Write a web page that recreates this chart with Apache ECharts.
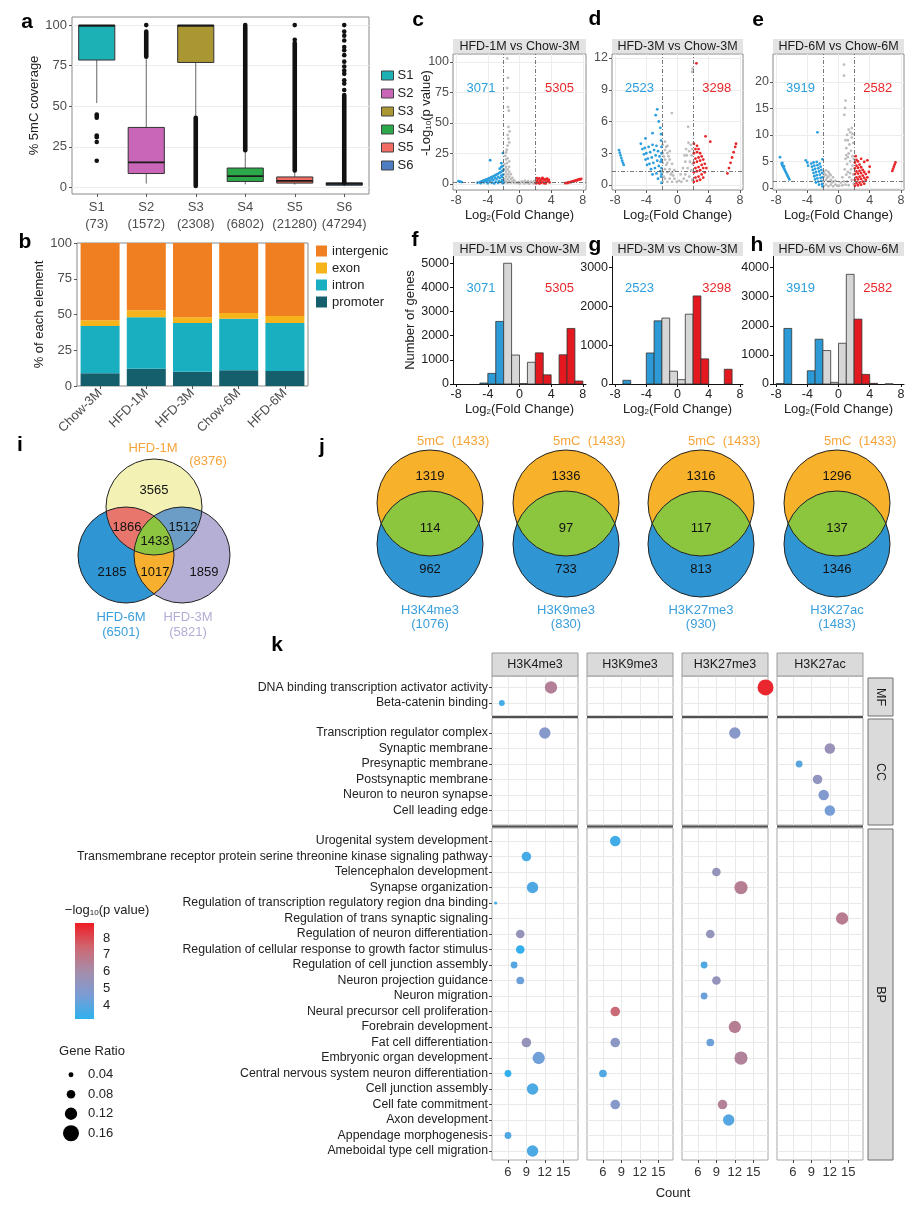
<!DOCTYPE html>
<html><head><meta charset="utf-8">
<script src="https://cdn.jsdelivr.net/npm/echarts@6/dist/echarts.min.js"></script>
<style>html,body{margin:0;padding:0;background:#fff}#chart{width:920px;height:1208px}</style>
</head><body><div id="chart"></div>
<script>
// ================= DATA =================
// panel a
const aSamples = ['S1','S2','S3','S4','S5','S6'];
const aCounts = [73,1572,2308,6802,21280,47294];
// [lowWhisker, Q1, median, Q3, highWhisker]
const aBoxes = [[52,78.5,99.6,100,100],[2.4,8.6,15.5,37,79],[44,77,99.6,100,100],[2,3.7,7,12,22.4],[1.8,2.7,4.1,6.5,10.2],[0.8,1.4,2.2,2.9,4]];
// isolated outliers [sampleIndex, value]
const aOutliers = [[0,45],[0,44],[0,43],[0,32],[0,31],[0,28],[0,16.5],[1,100],[3,100],[4,91],[4,100],
  [5,60],[5,64],[5,66],[5,70],[5,72],[5,74.5],[5,77.5],[5,81.5],[5,84.5],[5,86.5],[5,90.5],[5,93.5],[5,96],[5,100]];
// dense outlier runs [sampleIndex, from, to]
const aOutlierRuns = [[1,80.5,96],[2,1,43],[3,23,99],[4,10.5,89],[5,3,57]];

// panel b
const bSamples = ['Chow-3M','HFD-1M','HFD-3M','Chow-6M','HFD-6M'];
const bPromoter = [9,12,10,11,10.5];
const bIntron = [33,36,34,36,33.5];
const bExon = [4,5,4,4,5];
const bIntergenic = [54,47,52,49,51];

// panels c-h
const compTitles = ['HFD-1M vs Chow-3M','HFD-3M vs Chow-3M','HFD-6M vs Chow-6M'];
const compDown = [3071,2523,3919];
const compUp = [5305,3298,2582];
const fcCut = 2, pCut = 1.3;

const cBlue = [[-7.7,2.2],[-7.5,1.9],[-7.3,1.5],[-5.3,1.0],[-5.0,1.5],[-4.8,2.0],[-4.6,2.6],[-4.4,3.1],[-4.2,3.7],[-4.0,4.2],[-3.8,4.8],[-3.6,5.4],[-3.4,6.0],[-3.2,6.6],[-3.0,7.3],[-2.8,8.0],[-2.6,8.8],[-2.4,9.6],[-2.2,10.5],[-2.05,11.5],
 [-4.9,0.6],[-4.5,1.2],[-4.1,1.8],[-3.7,2.5],[-3.3,3.2],[-2.9,4.0],[-2.5,4.8],[-2.2,5.6],[-4.0,0.5],[-3.5,1.0],[-3.0,1.6],[-2.6,2.3],[-2.2,3.0],
 [-3.2,0.4],[-2.7,0.9],[-2.3,1.5],[-2.1,0.6],[-2.05,2.2],[-2.1,7.5],[-2.3,6.8],[-2.7,5.8],[-3.1,5.0],[-3.5,4.0],[-3.9,3.0],[-4.3,2.1],
 [-2.5,12.5],[-2.3,13.8],[-2.15,14.5],[-3.7,19.4],[-2.1,25.3],[-2.3,17]];
const cGray = [[-1.55,102.8],[-1.45,87],[-1.55,78.6],[-1.45,63],[-1.35,60],[-1.4,46.7],[-1.25,43],[-1.4,37],[-1.5,31.4],[-1.7,25.8],[-1.8,23],[-1.6,28],[-1.3,34],[-1.5,40],[-1.7,20],[-1.5,21],[-1.3,18.5],[-1.6,17],[-1.9,16],
 [-1.9,1],[-1.9,4],[-1.9,8],[-1.9,12],[-1.7,2],[-1.7,6],[-1.7,10],[-1.7,14],[-1.5,1],[-1.5,4],[-1.5,8],[-1.5,12],[-1.3,2],[-1.3,6],[-1.3,10],[-1.3,14],[-1.1,1],[-1.1,4],[-1.1,8],[-0.9,2],[-0.9,5],[-0.7,1],[-0.7,3],[-0.5,1.5],[-0.3,0.8],
 [-0.1,1.5],[0.1,0.8],[0.3,2],[0.5,1.2],[0.7,2.5],[0.9,1],[1.1,2.2],[1.3,0.7],[1.5,1.8],[1.7,1.1],[1.9,2.4],[0,0.3],[0.6,0.4],[1.2,0.3],[1.8,0.5]];
const cRed = [[2.1,0.5],[2.2,2],[2.3,3.5],[2.4,1],[2.5,4.5],[2.6,2.5],[2.7,0.8],[2.8,3.8],[2.9,1.8],[3.0,4.2],[3.1,0.6],[3.2,2.9],[3.3,3.9],[3.4,1.5],[3.5,4.4],[3.6,2.3],[3.7,3.2],[3.8,1.2],[2.2,4.8],[2.9,5],[3.3,0.4],[2.5,0.3],
 [5.8,0.6],[6.0,0.9],[6.2,1.2],[6.4,1.5],[6.6,1.8],[6.8,2.2],[7.0,2.6],[7.2,3.0],[7.4,3.4],[7.6,3.8],[7.8,4.2],[6.1,0.7],[6.5,1.4],[6.9,2.1],[7.3,3.0],[7.7,3.7]];

const dBlue = [[-7.5,3.3],[-7.4,3.05],[-7.3,2.8],[-7.2,2.55],[-7.1,2.3],[-7.0,2.1],[-6.9,1.9],
 [-4.7,3.9],[-4.5,3.4],[-4.3,2.9],[-4.1,2.4],[-3.9,1.9],[-4.2,3.5],[-4.0,3.0],[-3.8,2.5],[-3.6,2.0],[-3.4,1.5],[-3.2,1.0],
 [-3.7,3.6],[-3.5,3.1],[-3.3,2.6],[-3.1,2.1],[-2.9,1.6],[-2.7,1.1],[-2.5,0.6],[-3.2,3.8],[-3.0,3.3],[-2.8,2.8],[-2.6,2.3],[-2.4,1.8],[-2.2,1.3],[-2.1,0.8],
 [-2.7,3.7],[-2.5,3.2],[-2.3,2.7],[-2.15,2.2],[-2.05,0.2],[-2.05,1.0],[-2.05,1.6],[-2.05,2.4],[-2.05,3.0],[-2.05,3.6],[-2.1,4.2],[-2.1,4.8],
 [-2.6,7.15],[-2.8,6.6],[-2.4,6.0],[-3.2,4.9],[-4.1,4.4],[-2.2,5.4]];
const dGray = [[-1.9,0.3],[-1.9,1.2],[-1.9,2.1],[-1.9,3.0],[-1.9,3.8],[-1.6,0.6],[-1.6,1.5],[-1.6,2.4],[-1.6,3.3],[-1.6,4.1],[-1.3,0.3],[-1.3,1.2],[-1.3,2.1],[-1.3,3.0],[-1.3,3.7],[-1.0,0.6],[-1.0,1.5],[-1.0,2.4],[-1.0,3.2],[-0.7,0.3],[-0.7,1.2],[-0.7,2.0],[-0.4,0.6],[-0.4,1.4],[-0.1,0.3],
 [-1.75,0.8],[-1.45,1.9],[-1.15,2.7],[-0.85,1.0],[-1.75,2.7],[-1.45,3.6],[-0.55,0.9],
 [0.2,0.4],[0.4,1.0],[0.5,0.3],[0.7,1.6],[0.8,0.6],[1.0,2.2],[1.0,1.0],[1.2,0.4],[1.2,2.8],[1.3,1.6],[1.5,3.2],[1.5,0.8],[1.6,2.2],[1.7,3.8],[1.8,1.4],[1.8,2.8],[1.9,0.5],[1.9,3.4],[1.95,2.0],[1.4,4.0],[1.1,3.4],[0.9,2.8],
 [-0.73,6.8],[1.36,5.5],[1.87,10.7],[1.95,11.0]];
const dRed = [[2.42,11.5],[2.1,0.3],[2.1,1.2],[2.1,2.1],[2.1,3.0],[2.1,3.9],[2.3,0.7],[2.3,1.6],[2.3,2.5],[2.3,3.4],[2.5,0.4],[2.5,1.3],[2.5,2.2],[2.5,3.1],[2.5,3.7],[2.7,0.8],[2.7,1.7],[2.7,2.6],[2.7,3.4],[2.9,0.5],[2.9,1.4],[2.9,2.3],[2.9,3.0],[3.1,1.0],[3.1,1.9],[3.1,2.7],[3.3,0.7],[3.3,1.6],[3.3,2.4],[3.5,1.2],[3.5,2.0],[3.7,1.6],
 [3.6,4.6],[4.2,4.1],[6.4,1.1],[6.6,1.6],[6.8,2.1],[7.0,2.6],[7.2,3.1],[7.4,3.6],[7.5,3.9]];

const eBlue = [[-7.5,5.8],[-7.3,4.6],[-7.2,4.3],[-7.1,4.0],[-7.0,3.7],[-6.9,3.4],[-6.8,3.1],[-6.7,2.8],[-6.6,2.5],[-6.5,2.2],[-6.4,1.9],[-6.3,1.6],[-7.2,4.7],[-7.0,4.1],
 [-4.2,5.2],[-4.0,4.8],[-3.9,4.2],[-3.5,4.6],[-3.4,4.0],[-3.3,3.4],[-3.2,2.8],[-3.1,2.2],[-3.0,1.6],[-2.9,1.0],[-3.2,4.8],[-3.1,4.2],[-3.0,3.6],[-2.9,3.0],[-2.8,2.4],[-2.7,1.8],[-2.6,1.2],[-2.5,0.6],
 [-2.8,4.9],[-2.7,4.3],[-2.6,3.7],[-2.5,3.1],[-2.4,2.5],[-2.3,1.9],[-2.2,1.3],[-2.1,0.7],[-2.4,4.6],[-2.3,4.0],[-2.2,3.4],[-2.1,2.8],[-2.05,5.4],[-2.05,2.0],[-2.05,0.3],[-2.7,10.5]];
const eGray = [[-1.9,0.3],[-1.9,1.2],[-1.9,2.1],[-1.9,3.0],[-1.6,0.6],[-1.6,1.5],[-1.6,2.4],[-1.6,3.3],[-1.3,0.3],[-1.3,1.2],[-1.3,2.1],[-1.3,3.0],[-1.0,0.6],[-1.0,1.5],[-1.0,2.4],[-0.7,0.3],[-0.7,1.2],[-0.7,2.0],[-0.4,0.6],[-0.4,1.3],[-0.15,0.4],[-1.75,2.6],[-1.45,1.9],[-1.15,2.7],[-0.85,1.0],
 [0.1,0.4],[0.3,1.0],[0.5,0.5],[0.5,2.0],[0.7,1.2],[0.8,3.5],[0.9,0.6],[0.9,5.5],[1.0,2.5],[1.0,7.5],[1.1,1.2],[1.1,4.5],[1.2,9.0],[1.2,3.0],[1.3,6.5],[1.3,0.5],[1.4,2.0],[1.4,8.2],[1.5,5.0],[1.5,10.5],[1.6,3.5],[1.6,7.0],[1.7,1.5],[1.7,9.5],[1.8,4.2],[1.8,6.0],[1.9,2.5],[1.9,8.5],[1.95,0.8],[1.95,5.5],[1.1,10.0],[0.9,9.0],[1.3,11.0],[1.7,11.3],[1.5,2.8],[1.2,5.8],[1.0,6.2],[1.8,10.2],
 [0.7,23.3],[0.7,21.2],[0.9,16.5],[0.85,15.1],[0.75,13.8]];
const eRed = [[2.1,0.4],[2.1,1.5],[2.1,2.6],[2.1,3.7],[2.1,4.8],[2.3,0.9],[2.3,2.0],[2.3,3.1],[2.3,4.2],[2.3,5.3],[2.5,0.5],[2.5,1.6],[2.5,2.7],[2.5,3.8],[2.5,5.0],[2.7,1.0],[2.7,2.1],[2.7,3.2],[2.7,4.4],[2.9,0.6],[2.9,1.7],[2.9,2.8],[2.9,3.9],[2.9,5.5],[3.1,1.2],[3.1,2.3],[3.1,3.4],[3.3,0.8],[3.3,1.9],[3.3,3.0],[3.3,4.9],[3.5,1.5],[3.5,2.6],[3.7,2.0],[3.7,5.2],[3.9,3.0],[4.0,4.0],[2.2,6.0],
 [6.9,3.2],[7.0,3.6],[7.1,4.0],[7.2,4.4],[7.3,4.8]];

// histograms: [bin left edge, number of genes]
const binWidth = 1;
const fBlue = [[-5,40],[-4,440],[-3,2591]];
const fGray = [[-2,5000],[-1,1200],[0,20],[1,900]];
const fRed = [[2,1290],[3,380],[5,1210],[6,2300],[7,125]];
const gBlue = [[-7,95],[-4,800],[-3,1628]];
const gGray = [[-2,1700],[-1,330],[0,112],[1,1800]];
const gRed = [[2,2270],[3,648],[6,380]];
const hBlue = [[-8,15],[-7,1910],[-4,455],[-3,1539]];
const hGray = [[-2,1150],[-1,57],[0,1400],[1,3770],[6,10]];
const hRed = [[2,2230],[3,330],[4,22]];

// panel i (3-set Venn)
const vennISets = ['HFD-1M','HFD-6M','HFD-3M'];
const vennITotals = [8376,6501,5821];
// regions: only1M, 1M&6M, 1M&3M, all, only6M, 6M&3M, only3M
const vennIRegions = [3565,1866,1512,1433,2185,1017,1859];

// panel j (2-set Venns)
const vennJMarks = ['H3K4me3','H3K9me3','H3K27me3','H3K27ac'];
const vennJMarkTotals = [1076,830,930,1483];
const vennJ5mCTotal = 1433;
const vennJOnly5mC = [1319,1336,1316,1296];
const vennJOverlap = [114,97,117,137];
const vennJOnlyMark = [962,733,813,1346];

// panel k
const kMarks = ['H3K4me3','H3K9me3','H3K27me3','H3K27ac'];
const kCats = ['MF','CC','BP'];
const kMF = ['DNA binding transcription activator activity','Beta-catenin binding'];
const kCC = ['Transcription regulator complex','Synaptic membrane','Presynaptic membrane','Postsynaptic membrane','Neuron to neuron synapse','Cell leading edge'];
const kBP = ['Urogenital system development','Transmembrane receptor protein serine threonine kinase signaling pathway','Telencephalon development','Synapse organization','Regulation of transcription regulatory region dna binding','Regulation of trans synaptic signaling','Regulation of neuron differentiation','Regulation of cellular response to growth factor stimulus','Regulation of cell junction assembly','Neuron projection guidance','Neuron migration','Neural precursor cell proliferation','Forebrain development','Fat cell differentiation','Embryonic organ development','Central nervous system neuron differentiation','Cell junction assembly','Cell fate commitment','Axon development','Appendage morphogenesis','Ameboidal type cell migration'];
// [term, count, -log10 p, gene ratio]
const kH3K4me3 = [['DNA binding transcription activator activity',13,6.5,0.12],['Beta-catenin binding',5,3.6,0.05],['Transcription regulator complex',12,4.9,0.11],
 ['Transmembrane receptor protein serine threonine kinase signaling pathway',9,3.6,0.09],['Synapse organization',10,3.8,0.11],['Regulation of transcription regulatory region dna binding',4,3.5,0.02],
 ['Regulation of neuron differentiation',8,5.5,0.08],['Regulation of cellular response to growth factor stimulus',8,3.3,0.08],['Regulation of cell junction assembly',7,3.9,0.06],
 ['Neuron projection guidance',8,4.3,0.07],['Fat cell differentiation',9,5.5,0.09],['Embryonic organ development',11,4.4,0.12],['Central nervous system neuron differentiation',6,3.2,0.06],
 ['Cell junction assembly',10,3.7,0.11],['Appendage morphogenesis',6,3.8,0.06],['Ameboidal type cell migration',10,3.7,0.11]];
const kH3K9me3 = [['Urogenital system development',8,3.5,0.1],['Neural precursor cell proliferation',8,7.3,0.09],['Fat cell differentiation',8,5.1,0.09],
 ['Central nervous system neuron differentiation',6,3.8,0.07],['Cell fate commitment',8,4.9,0.09]];
const kH3K27me3 = [['DNA binding transcription activator activity',17,8.7,0.16],['Transcription regulator complex',12,5.0,0.11],['Telencephalon development',9,5.5,0.08],
 ['Synapse organization',13,6.6,0.13],['Regulation of neuron differentiation',8,5.4,0.08],['Regulation of cell junction assembly',7,3.8,0.06],['Neuron projection guidance',9,5.5,0.08],
 ['Neuron migration',7,4.3,0.06],['Forebrain development',12,6.6,0.12],['Fat cell differentiation',8,4.3,0.07],['Embryonic organ development',13,6.4,0.13],
 ['Cell fate commitment',10,6.5,0.09],['Axon development',11,3.9,0.11]];
const kH3K27ac = [['Synaptic membrane',12,5.6,0.1],['Presynaptic membrane',7,4.0,0.06],['Postsynaptic membrane',10,5.3,0.09],['Neuron to neuron synapse',11,4.8,0.1],
 ['Cell leading edge',12,4.5,0.1],['Regulation of trans synaptic signaling',14,6.7,0.12]];
const kCountTicks = [6,9,12,15];
const kPvalTicks = [4,5,6,7,8];
const kPvalRange = [3.16,8.9];
const kRatioLegend = [0.04,0.08,0.12,0.16];

// ================= LAYOUT / STYLE =================
const FONT = '"Liberation Sans", Arial, Helvetica, sans-serif';
const TICKC = '#4d4d4d';
const aColors = ['#1CB2B5','#C966B7','#AA9632','#2BA84A','#F26C64','#4E7DC4'];
const BLUE = '#2B9FDE', GRAY = '#BDBDBD', RED = '#E8262A';
const HBLUE = '#2B9AD6', HGRAY = '#D6D6D6', HRED = '#E3191F';
const pColors = ['#2DB1EE','#7C9CD4','#A68DAA','#CF6670','#EE1C24'];

const grids=[], xAxes=[], yAxes=[], series=[];
function addGrid(g, xa, ya){ const i=grids.length; grids.push(g); xa.gridIndex=i; ya.gridIndex=i;
  xa.axisLine = Object.assign({onZero:false}, xa.axisLine||{}); ya.axisLine = Object.assign({onZero:false}, ya.axisLine||{});
  xAxes.push(xa); yAxes.push(ya); return i; }
function txt(x,y,text,o){ o=o||{}; return {type:'text', x:x, y:y, silent:true, z:50, style:Object.assign({text:text, fill:'#222', fontSize:13, fontFamily:FONT, align:'center', verticalAlign:'middle', textAlign:'center', textVerticalAlign:'middle'}, o)}; }
const subRich = {s:{fontSize:8, verticalAlign:'bottom', lineHeight:12, padding:[4,0,0,0]}};

// ---- render helpers
function renderBox(params, api){
  const x = api.value(0);
  const lo = api.coord([x, api.value(1)]), q1 = api.coord([x, api.value(2)]), md = api.coord([x, api.value(3)]), q3 = api.coord([x, api.value(4)]), hi = api.coord([x, api.value(5)]);
  const w = api.size([1,0])[0]*0.73;
  const col = api.visual('color');
  return {type:'group', children:[
    {type:'line', shape:{x1:lo[0], y1:lo[1], x2:lo[0], y2:q1[1]}, style:{stroke:'#666', lineWidth:1}},
    {type:'line', shape:{x1:hi[0], y1:q3[1], x2:hi[0], y2:hi[1]}, style:{stroke:'#666', lineWidth:1}},
    {type:'rect', shape:{x:lo[0]-w/2, y:q3[1], width:w, height:Math.max(q1[1]-q3[1],1.5)}, style:{fill:col, stroke:'#333', lineWidth:1}},
    {type:'line', shape:{x1:lo[0]-w/2, y1:md[1], x2:lo[0]+w/2, y2:md[1]}, style:{stroke:'#1a1a1a', lineWidth:1.8}}
  ]};
}
function renderRun(params, api){
  const x = api.value(0); const p1 = api.coord([x, api.value(1)]), p2 = api.coord([x, api.value(2)]);
  return {type:'line', shape:{x1:p1[0], y1:p1[1], x2:p2[0], y2:p2[1]}, style:{stroke:'#111', lineWidth:4.6, lineCap:'round'}};
}
function renderBin(params, api){
  const x0 = api.value(0), n = api.value(1);
  const p0 = api.coord([x0,0]), p1 = api.coord([x0+binWidth, n]);
  return {type:'rect', shape:{x:p0[0], y:p1[1], width:p1[0]-p0[0], height:Math.max(p0[1]-p1[1],0.6)}, style:{fill:api.visual('color'), stroke:'#333', lineWidth:0.8}};
}

// ---- panel a
const gA = addGrid({left:72, top:17, width:297, height:177, show:true, borderColor:'#8a8a8a', borderWidth:1},
  {type:'category', data:aSamples, axisLine:{show:false}, axisTick:{show:true, alignWithLabel:true, length:3, lineStyle:{color:'#555'}},
   axisLabel:{interval:0, color:TICKC, fontSize:13, lineHeight:17, margin:5, formatter:(v,i)=>v+'\n('+aCounts[i]+')'}, splitLine:{show:false}},
  {type:'value', min:-4, max:105, axisLine:{show:false}, axisTick:{show:true, length:3, lineStyle:{color:'#555'}, customValues:[0,25,50,75,100]},
   axisLabel:{customValues:[0,25,50,75,100], color:TICKC, fontSize:13, margin:5}, splitLine:{show:true, lineStyle:{color:'#ececec'}},
   name:'% 5mC coverage', nameLocation:'middle', nameGap:27, nameTextStyle:{color:'#222', fontSize:13}});
aSamples.forEach((s,i)=>{
  series.push({type:'custom', name:s, xAxisIndex:gA, yAxisIndex:gA, itemStyle:{color:aColors[i]}, renderItem:renderBox, data:[[i].concat(aBoxes[i])], z:3});
});
series.push({type:'custom', xAxisIndex:gA, yAxisIndex:gA, renderItem:renderRun, data:aOutlierRuns, z:4});
series.push({type:'scatter', xAxisIndex:gA, yAxisIndex:gA, data:aOutliers, symbolSize:4.6, itemStyle:{color:'#111', opacity:1}, z:4});

// ---- panel b
const gB = addGrid({left:77, top:243, width:231, height:143, show:true, borderColor:'#8a8a8a', borderWidth:1},
  {type:'category', data:bSamples, axisLine:{show:false}, axisTick:{show:true, alignWithLabel:true, length:3, lineStyle:{color:'#555'}},
   axisLabel:{interval:0, rotate:45, color:TICKC, fontSize:13, margin:5}},
  {type:'value', min:0, max:100, interval:25, axisLine:{show:false}, axisTick:{show:true, length:3, lineStyle:{color:'#555'}},
   axisLabel:{color:TICKC, fontSize:13, margin:5}, splitLine:{show:false},
   name:'% of each element', nameLocation:'middle', nameGap:28, nameTextStyle:{color:'#222', fontSize:13}});
[['promoter',bPromoter,'#155E6B'],['intron',bIntron,'#19AFC0'],['exon',bExon,'#F6B41A'],['intergenic',bIntergenic,'#F07F22']].forEach(s=>{
  series.push({type:'bar', name:s[0], stack:'b', xAxisIndex:gB, yAxisIndex:gB, data:s[1], barWidth:39, itemStyle:{color:s[2]}});
});

// ---- panels c-e (volcano)
const volc = [
  {left:453, w:133, min:-5, max:106.5, ticks:[0,25,50,75,100], d:[cBlue,cGray,cRed]},
  {left:612, w:131, min:-0.47, max:12.38, ticks:[0,3,6,9,12], d:[dBlue,dGray,dRed]},
  {left:773, w:131, min:-0.4, max:25.3, ticks:[0,5,10,15,20], d:[eBlue,eGray,eRed]}];
const fcName = 'Log{s|2}(Fold Change)';
volc.forEach((v,k)=>{
  const gi = addGrid({left:v.left, top:54, width:v.w, height:136, show:true, borderColor:'#8a8a8a', borderWidth:1},
    {type:'value', min:-8.4, max:8.4, axisLine:{show:false}, axisTick:{show:true, length:3, lineStyle:{color:'#555'}, customValues:[-8,-4,0,4,8]},
     axisLabel:{customValues:[-8,-4,0,4,8], color:TICKC, fontSize:12.5, margin:4}, splitLine:{show:true, lineStyle:{color:'#ececec'}},
     name:fcName, nameLocation:'middle', nameGap:19, nameTextStyle:{color:'#222', fontSize:13, rich:subRich}},
    {type:'value', min:v.min, max:v.max, axisLine:{show:false}, axisTick:{show:true, length:3, lineStyle:{color:'#555'}, customValues:v.ticks},
     axisLabel:{customValues:v.ticks, color:TICKC, fontSize:12.5, margin:4}, splitLine:{show:true, lineStyle:{color:'#ececec'}}});
  series.push({type:'scatter', xAxisIndex:gi, yAxisIndex:gi, data:v.d[1], symbolSize:2.8, itemStyle:{color:GRAY, opacity:1}, z:3,
    markLine:{silent:true, symbol:'none', label:{show:false}, lineStyle:{type:[4,2,1,2], color:'#555', width:0.8},
      data:[{xAxis:-fcCut},{xAxis:fcCut},{yAxis:pCut}]}});
  series.push({type:'scatter', xAxisIndex:gi, yAxisIndex:gi, data:v.d[0], symbolSize:2.8, itemStyle:{color:BLUE, opacity:1}, z:4});
  series.push({type:'scatter', xAxisIndex:gi, yAxisIndex:gi, data:v.d[2], symbolSize:2.8, itemStyle:{color:RED, opacity:1}, z:4});
});

// ---- panels f-h (histograms)
const hist = [
  {left:453, w:133, max:5300, d:[fBlue,fGray,fRed]},
  {left:612, w:131, max:3300, d:[gBlue,gGray,gRed]},
  {left:773, w:131, max:4400, d:[hBlue,hGray,hRed]}];
hist.forEach((v,k)=>{
  const gi = addGrid({left:v.left, top:256, width:v.w, height:128},
    {type:'value', min:-8.4, max:8.4, axisLine:{show:true, lineStyle:{color:'#111', width:1}}, axisTick:{show:true, length:3, lineStyle:{color:'#111'}, customValues:[-8,-4,0,4,8]},
     axisLabel:{customValues:[-8,-4,0,4,8], color:'#222', fontSize:12.5, margin:4}, splitLine:{show:false},
     name:fcName, nameLocation:'middle', nameGap:19, nameTextStyle:{color:'#222', fontSize:13, rich:subRich}},
    {type:'value', min:0, max:v.max, interval:1000, axisLine:{show:true, lineStyle:{color:'#111', width:1}}, axisTick:{show:true, length:3, lineStyle:{color:'#111'}},
     axisLabel:{color:'#222', fontSize:12.5, margin:4, showMaxLabel:false, formatter:(val)=>String(val)}, splitLine:{show:false},
     name: k===0 ? 'Number of genes' : '', nameLocation:'middle', nameGap:33, nameTextStyle:{color:'#222', fontSize:13}});
  [[v.d[0],HBLUE],[v.d[1],HGRAY],[v.d[2],HRED]].forEach(p=>{
    series.push({type:'custom', xAxisIndex:gi, yAxisIndex:gi, renderItem:renderBin, itemStyle:{color:p[1]}, data:p[0], z:3});
  });
});

// ---- panel k (faceted dot plot)
const kRows = [kMF, kCC, kBP];
const kRowTop = [676, 718, 828], kRowH = [40, 107, 332];
const kRowRange = [[-0.74,1.84],[-0.97,5.94],[-0.84,20.58]];
const kColLeft = [492,587,682,777], kColW = 86;
const kDots = [kH3K4me3, kH3K9me3, kH3K27me3, kH3K27ac];
const kSeries = [];
for (let r=0; r<3; r++){
  const idx = kRows[r].map((_,i)=>i);
  for (let c=0; c<4; c++){
    const gi = addGrid({left:kColLeft[c], top:kRowTop[r], width:kColW, height:kRowH[r], show:true, borderColor:'#a8a8a8', borderWidth:1},
      {type:'value', min:3.4, max:17.4, axisLine:{show:false}, axisTick:{show:r===2, length:3, lineStyle:{color:'#444'}, customValues:kCountTicks},
       axisLabel:{show:r===2, customValues:kCountTicks, color:'#333', fontSize:13, margin:6}, splitLine:{show:true, lineStyle:{color:'#e9e9e9'}}},
      {type:'value', inverse:true, min:kRowRange[r][0], max:kRowRange[r][1], axisLine:{show:false},
       axisTick:{show:c===0, length:3, lineStyle:{color:'#444'}, customValues:idx},
       axisLabel:{show:c===0, customValues:idx, formatter:(val)=>kRows[r][Math.round(val)], color:'#222', fontSize:12.3, margin:4},
       splitLine:{show:true, lineStyle:{color:'#e9e9e9'}}});
    const data = kDots[c].filter(d=>kRows[r].indexOf(d[0])>=0).map(d=>[d[1], kRows[r].indexOf(d[0]), d[2], d[3]]);
    kSeries.push(series.length);
    series.push({type:'scatter', xAxisIndex:gi, yAxisIndex:gi, data:data, symbol:'circle', itemStyle:{opacity:1}, z:5});
  }
}
// colour bar
const gCB = addGrid({left:75, top:923, width:19, height:96},
  {type:'category', data:['cb'], show:false},
  {type:'value', min:kPvalRange[0], max:kPvalRange[1], position:'right', axisLine:{show:false},
   axisTick:{show:true, inside:true, length:4, lineStyle:{color:'#fff'}, customValues:kPvalTicks},
   axisLabel:{customValues:kPvalTicks, color:'#222', fontSize:13, margin:9}, splitLine:{show:false}});
series.push({type:'custom', xAxisIndex:gCB, yAxisIndex:gCB, data:[[0, kPvalRange[0], kPvalRange[1]]],
  renderItem:function(params, api){
    const lo = api.coord([0, api.value(1)]), hi = api.coord([0, api.value(2)]), w = api.size([1,0])[0];
    const stops = pColors.map((c,i)=>({offset:i/(pColors.length-1), color:c}));
    return {type:'rect', shape:{x:lo[0]-w/2, y:hi[1], width:w, height:lo[1]-hi[1]},
      style:{fill:{type:'linear', x:0, y:1, x2:0, y2:0, colorStops:stops}}};
  }, z:2});
// size legend
const gSL = addGrid({left:62, top:1065, width:18, height:78},
  {type:'category', data:['s'], show:false},
  {type:'category', inverse:true, data:kRatioLegend.map(String), position:'right', axisLine:{show:false}, axisTick:{show:false},
   axisLabel:{color:'#222', fontSize:13, margin:8}});
const sizeLegendIdx = series.length;
series.push({type:'scatter', xAxisIndex:gSL, yAxisIndex:gSL, data:kRatioLegend.map((r,i)=>[0,i,0,r]), itemStyle:{color:'#000', opacity:1}});

// ================= GRAPHICS =================
const gfx = [];
[['a',27,22],['b',25,242],['c',418,20],['d',595,19],['e',758,20],['f',415,240],['g',595,245],['h',757,245],['i',20,445],['j',322,447],['k',277,645]]
  .forEach(p=>gfx.push(txt(p[1],p[2],p[0],{fontSize:21, fontWeight:'bold', fill:'#000'})));
// y-axis title of panel c
gfx.push({type:'text', silent:true, z:50, x:426, y:113, rotation:Math.PI/2,
  style:{text:'-Log{s|10}(p value)', rich:subRich, fill:'#222', fontSize:13, fontFamily:FONT, align:'center', verticalAlign:'middle', textAlign:'center', textVerticalAlign:'middle'}});
volc.forEach((v,k)=>{
  [39,242].forEach((yy,row)=>{
    gfx.push({type:'rect', silent:true, z:40, shape:{x:v.left, y:yy, width:v.w, height:14}, style:{fill:'#E3E3E3'}});
    gfx.push(txt(v.left+v.w/2, yy+7.5, compTitles[k], {fontSize:12.5, fill:'#1a1a1a'}));
    const yN = row===0 ? 88 : 288;
    gfx.push(txt(v.left+v.w*0.21, yN, String(compDown[k]), {fontSize:13, fill:BLUE}));
    gfx.push(txt(v.left+v.w*0.80, yN, String(compUp[k]), {fontSize:13, fill:RED}));
  });
});
// arc helpers (polygons)
function arcPts(c, p, q, r){
  const a1 = Math.atan2(p[1]-c[1], p[0]-c[0]); let a2 = Math.atan2(q[1]-c[1], q[0]-c[0]);
  let d = a2 - a1; while (d > Math.PI) d -= 2*Math.PI; while (d <= -Math.PI) d += 2*Math.PI;
  const pts = []; const n = 40;
  for (let i=0;i<=n;i++){ const a = a1 + d*i/n; pts.push([c[0]+r*Math.cos(a), c[1]+r*Math.sin(a)]); }
  return pts;
}
function inter(c1,c2,r){ const dx=c2[0]-c1[0], dy=c2[1]-c1[1], dd=Math.hypot(dx,dy), h=Math.sqrt(r*r-dd*dd/4), mx=c1[0]+dx/2, my=c1[1]+dy/2;
  return [[mx-h*dy/dd, my+h*dx/dd],[mx+h*dy/dd, my-h*dx/dd]]; }
function lensPts(c1,c2,r){ const q = inter(c1,c2,r); return arcPts(c1,q[0],q[1],r).concat(arcPts(c2,q[1],q[0],r)); }
function poly(points, fill, z){ return {type:'polygon', silent:true, z:z||11, shape:{points:points}, style:{fill:fill}}; }
// Venn i
(function(){
  const r = 48, A=[154,507], Bc=[126,555], C=[182,555];
  function closer(pts,c){ return Math.hypot(pts[0][0]-c[0],pts[0][1]-c[1]) < Math.hypot(pts[1][0]-c[0],pts[1][1]-c[1]) ? pts[0] : pts[1]; }
  const pBC = closer(inter(Bc,C,r),A), pAB = closer(inter(A,Bc,r),C), pAC = closer(inter(A,C,r),Bc);
  const tri = arcPts(Bc,pBC,pAB,r).concat(arcPts(A,pAB,pAC,r)).concat(arcPts(C,pAC,pBC,r));
  [[A,'#F3F2B4'],[Bc,'#2F95D3'],[C,'#B5AFD6']].forEach(p=>gfx.push({type:'circle', silent:true, z:10, shape:{cx:p[0][0], cy:p[0][1], r:r}, style:{fill:p[1]}}));
  gfx.push(poly(lensPts(A,Bc,r),'#E8766D')); gfx.push(poly(lensPts(A,C,r),'#6C9DC6')); gfx.push(poly(lensPts(Bc,C,r),'#F6AF2E'));
  gfx.push(poly(tri,'#8DC540',12));
  [A,Bc,C].forEach(c=>gfx.push({type:'circle', silent:true, z:13, shape:{cx:c[0], cy:c[1], r:r}, style:{fill:'none', stroke:'#222', lineWidth:1}}));
  const pos = [[154,490],[127,527],[183,527],[155,541],[112,572],[155,572],[204,572]];
  vennIRegions.forEach((n,i)=>gfx.push(txt(pos[i][0], pos[i][1], String(n), {fontSize:13, fill:'#111'})));
  gfx.push(txt(153,448,vennISets[0],{fill:'#F7A43A'})); gfx.push(txt(208,461,'('+vennITotals[0]+')',{fill:'#F7A43A'}));
  gfx.push(txt(121,617,vennISets[1],{fill:'#3A9FDB'})); gfx.push(txt(121,632,'('+vennITotals[1]+')',{fill:'#3A9FDB'}));
  gfx.push(txt(188,617,vennISets[2],{fill:'#B3ADD5'})); gfx.push(txt(188,632,'('+vennITotals[2]+')',{fill:'#B3ADD5'}));
})();
// Venn j
(function(){
  const r = 53, cxs = [430,566,701,837], yTop = 503, yBot = 544;
  vennJMarks.forEach((m,i)=>{
    const cx = cxs[i];
    gfx.push({type:'circle', silent:true, z:10, shape:{cx:cx, cy:yTop, r:r}, style:{fill:'#F8B12A'}});
    gfx.push({type:'circle', silent:true, z:10, shape:{cx:cx, cy:yBot, r:r}, style:{fill:'#2F95D3'}});
    gfx.push(poly(lensPts([cx,yTop],[cx,yBot],r),'#8CC63F'));
    [yTop,yBot].forEach(cy=>gfx.push({type:'circle', silent:true, z:13, shape:{cx:cx, cy:cy, r:r}, style:{fill:'none', stroke:'#222', lineWidth:1}}));
    gfx.push(txt(cx,476,String(vennJOnly5mC[i]),{fill:'#111'}));
    gfx.push(txt(cx,528,String(vennJOverlap[i]),{fill:'#111'}));
    gfx.push(txt(cx,569,String(vennJOnlyMark[i]),{fill:'#111'}));
    gfx.push(txt(cx-13,441,'5mC  ('+vennJ5mCTotal+')',{fill:'#F7A43A', align:'left', textAlign:'left'}));
    gfx.push(txt(cx,610,m,{fill:'#3A9FDB'}));
    gfx.push(txt(cx,624,'('+vennJMarkTotals[i]+')',{fill:'#3A9FDB'}));
  });
})();
// panel k strips etc.
kMarks.forEach((m,c)=>{
  gfx.push({type:'rect', silent:true, z:40, shape:{x:kColLeft[c], y:653, width:kColW, height:23}, style:{fill:'#DADADA', stroke:'#9a9a9a', lineWidth:1}});
  gfx.push(txt(kColLeft[c]+kColW/2, 665, m, {fontSize:12.5, fill:'#1a1a1a'}));
  [717, 826.5].forEach(yy=>gfx.push({type:'line', silent:true, z:41, shape:{x1:kColLeft[c], y1:yy, x2:kColLeft[c]+kColW, y2:yy}, style:{stroke:'#505050', lineWidth:2}}));
});
kCats.forEach((cat,r)=>{
  const y0 = kRowTop[r] + (r===0?2:1), hh = kRowH[r] - (r===0?2:1);
  gfx.push({type:'rect', silent:true, z:40, shape:{x:868, y:y0, width:25, height:hh}, style:{fill:'#DADADA', stroke:'#6e6e6e', lineWidth:1}});
  gfx.push({type:'text', silent:true, z:41, x:880.5, y:y0+hh/2, rotation:-Math.PI/2,
    style:{text:cat, fill:'#1a1a1a', fontSize:12.5, fontFamily:FONT, align:'center', verticalAlign:'middle', textAlign:'center', textVerticalAlign:'middle'}});
});
gfx.push(txt(673,1193,'Count',{fontSize:13}));
gfx.push(txt(107,910,'−log{s|10}(p value)',{fontSize:13, rich:subRich}));
gfx.push(txt(92,1051,'Gene Ratio',{fontSize:13}));

// ================= OPTION =================
const option = {
  animation:false,
  backgroundColor:'#fff',
  textStyle:{fontFamily:FONT},
  legend:[
    {data:aSamples, left:381, top:68, padding:0, orient:'vertical', itemWidth:12, itemHeight:9, itemGap:3, icon:'rect',
     itemStyle:{borderColor:'#444', borderWidth:1}, textStyle:{fontSize:13, color:'#222', lineHeight:15, padding:[0,0,0,-1]}, selectedMode:false},
    {data:['intergenic','exon','intron','promoter'], left:316, top:244, padding:0, orient:'vertical', itemWidth:11, itemHeight:11, itemGap:3, icon:'rect',
     textStyle:{fontSize:13, color:'#222', lineHeight:14}, selectedMode:false}
  ],
  visualMap:[
    {type:'continuous', show:false, dimension:2, seriesIndex:kSeries, min:kPvalRange[0], max:kPvalRange[1], inRange:{color:pColors}},
    {type:'continuous', show:false, dimension:3, seriesIndex:kSeries.concat([sizeLegendIdx]), min:0.01, max:0.17, inRange:{symbolSize:[2.2,16.9]}}
  ],
  grid:grids, xAxis:xAxes, yAxis:yAxes, series:series,
  graphic:{elements:gfx}
};
const chart = echarts.init(document.getElementById('chart'), null, {renderer:'canvas'});
chart.setOption(option);
</script></body></html>
